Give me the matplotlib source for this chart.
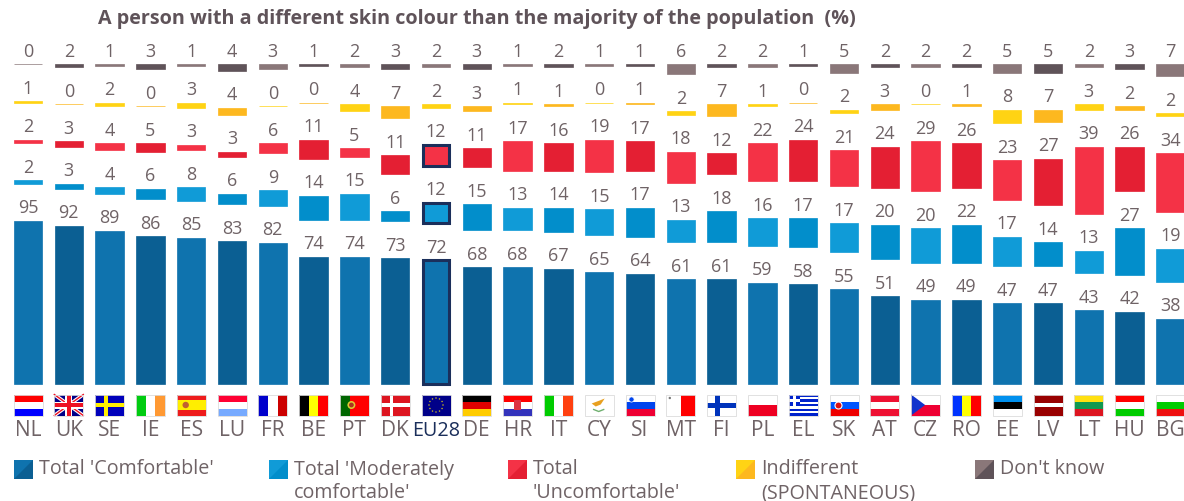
import matplotlib.pyplot as plt
from matplotlib.patches import Rectangle, Polygon, Circle
import numpy as np

plt.rcParams['font.family'] = ['Open Sans', 'DejaVu Sans']

countries = ['NL', 'UK', 'SE', 'IE', 'ES', 'LU', 'FR', 'BE', 'PT', 'DK', 'EU28', 'DE', 'HR', 'IT', 'CY',
             'SI', 'MT', 'FI', 'PL', 'EL', 'SK', 'AT', 'CZ', 'RO', 'EE', 'LV', 'LT', 'HU', 'BG']

comfortable = [95, 92, 89, 86, 85, 83, 82, 74, 74, 73, 72, 68, 68, 67, 65, 64, 61, 61, 59, 58, 55, 51, 49, 49, 47, 47, 43, 42, 38]
moderate = [2, 3, 4, 6, 8, 6, 9, 14, 15, 6, 12, 15, 13, 14, 15, 17, 13, 18, 16, 17, 17, 20, 20, 22, 17, 14, 13, 27, 19]
uncomfortable = [2, 3, 4, 5, 3, 3, 6, 11, 5, 11, 12, 11, 17, 16, 19, 17, 18, 12, 22, 24, 21, 24, 29, 26, 23, 27, 39, 26, 34]
indifferent = [1, 0, 2, 0, 3, 4, 0, 0, 4, 7, 2, 3, 1, 1, 0, 1, 2, 7, 1, 0, 2, 3, 0, 1, 8, 7, 3, 2, 2]
dont_know = [0, 2, 1, 3, 1, 4, 3, 1, 2, 3, 2, 3, 1, 2, 1, 1, 6, 2, 2, 1, 5, 2, 2, 2, 5, 5, 2, 3, 7]

series = [comfortable, moderate, uncomfortable, indifferent, dont_know]
legend_labels = ["Total 'Comfortable'", "Total 'Moderately\ncomfortable'", "Total\n'Uncomfortable'",
                 "Indifferent\n(SPONTANEOUS)", "Don't know"]
legend_x = [14, 269, 508, 736, 975]

# (lighter, darker), the columns alternate between the two
colors = [('#0f73ae', '#0b5f93'), ('#109bd7', '#028ecb'), ('#f43246', '#e41f33'),
          ('#ffd314', '#fdb81f'), ('#8a7779', '#5f5359')]
text_col = '#6f6366'
navy = '#1b2f5b'

W, H = 1184, 501
X0, DX = 28, 40.8      # pixel centre of first column, column spacing
Y0, PX = 384, 1.72     # pixel of the baseline, pixels per percent
GAP = 37 / PX          # empty space between two stacked segments, in percent
BAR_W = 28.5 / DX

fig = plt.figure(figsize=(W / 100, H / 100), dpi=100)
ax = fig.add_axes([0, 0, 1, 1])
ax.set_xlim(-X0 / DX, (W - X0) / DX)
ax.set_ylim((Y0 - H) / PX, Y0 / PX)
ax.axis('off')

# pixel coordinates for flags and legend
pax = fig.add_axes([0, 0, 1, 1])
pax.set_xlim(0, W)
pax.set_ylim(H, 0)
pax.axis('off')
pax.patch.set_alpha(0)

x = np.arange(len(countries))
bottom = np.zeros(len(countries))
for s, vals in enumerate(series):
    vals = np.array(vals)
    cols = [colors[s][i % 2] for i in x]
    ax.bar(x, vals, BAR_W, bottom=bottom, color=cols, edgecolor=cols, linewidth=0.5)
    for i, v in enumerate(vals):
        ax.annotate(str(v), (x[i], bottom[i] + v), xytext=(0, 2.5), textcoords='offset points',
                    ha='center', va='bottom', fontsize=13, color=text_col)
        # EU28 outline, only on the three big segments
        if countries[i] == 'EU28' and s < 3:
            ax.bar(x[i], v, BAR_W - 0.05, bottom=bottom[i], color='none', edgecolor=navy, linewidth=2.2)
    bottom = bottom + vals + GAP

H_STRIPES = {
    'NL': ['#ff0000', '#ffffff', '#0000ff'], 'LU': ['#ff0033', '#ffffff', '#77aaff'],
    'DE': ['#000000', '#e00000', '#ffcc00'], 'HR': ['#ff0000', '#ffffff', '#3333bb'],
    'SI': ['#ffffff', '#0044ee', '#ee0033'], 'PL': ['#ffffff', '#ffffff', '#ee0022', '#ee0022'],
    'SK': ['#ffffff', '#0055ff', '#ee0000'], 'AT': ['#ee1133', '#ffffff', '#ee1133'],
    'EE': ['#0090ee', '#000000', '#ffffff'], 'LV': ['#990000', '#990000', '#ffffff', '#990000', '#990000'],
    'LT': ['#ffe010', '#109850', '#dd1520'], 'HU': ['#ff0000', '#ffffff', '#00cc00'],
    'BG': ['#ffffff', '#00cc00', '#ee1010'], 'ES': ['#ee1c1c', '#ffee00', '#ffee00', '#ee1c1c'],
    'CY': ['#ffffff'], 'MT': ['#ffffff'], 'FI': ['#ffffff'], 'CZ': ['#ffffff', '#ee0033'],
    'EL': ['#0022cc', '#ffffff'] * 4 + ['#0022cc'], 'DK': ['#dd1520'], 'SE': ['#0000bb'],
    'UK': ['#000088'], 'EU28': ['#000088'],
}
V_STRIPES = {
    'IE': ['#00cc11', '#ffffff', '#ff9933'], 'FR': ['#0000cc', '#ffffff', '#cc0000'],
    'BE': ['#000000', '#ffff00', '#ff0000'], 'IT': ['#00cc00', '#ffffff', '#ff4010'],
    'RO': ['#0033ff', '#ffff00', '#ff0000'], 'PT': ['#006600', '#ff0000', '#ff0000'],
}


def rect(l, t, w, h, c, z=3):
    pax.add_patch(Rectangle((l, t), w, h, color=c, lw=0, zorder=z))


def draw_flag(code, cx):
    l, t, w, h = cx - 14.5, 394.5, 29, 21
    if code in H_STRIPES:
        st = H_STRIPES[code]
        for k, c in enumerate(st):
            rect(l, t + k * h / len(st), w, h / len(st), c)
    if code in V_STRIPES:
        st = V_STRIPES[code]
        for k, c in enumerate(st):
            rect(l + k * w / len(st), t, w / len(st), h, c)
    if code == 'UK':
        for pts in ([(l, t), (l + w, t + h)], [(l, t + h), (l + w, t)]):
            pax.plot(*zip(*pts), color='#ffffff', lw=2.6, zorder=4)
            pax.plot(*zip(*pts), color='#ee1122', lw=1, zorder=4)
        rect(l + w / 2 - 3.5, t, 7, h, '#ffffff', 4)
        rect(l, t + h / 2 - 3.5, w, 7, '#ffffff', 4)
        rect(l + w / 2 - 2, t, 4, h, '#ee1122', 5)
        rect(l, t + h / 2 - 2, w, 4, '#ee1122', 5)
    if code == 'SE':
        rect(l + 9, t, 4, h, '#ffee00', 4)
        rect(l, t + 8.5, w, 4, '#ffee00', 4)
    if code == 'FI':
        rect(l + 8, t, 5, h, '#0033bb', 4)
        rect(l, t + 8, w, 5, '#0033bb', 4)
    if code == 'DK':
        rect(l + 9, t, 3.5, h, '#ffffff', 4)
        rect(l, t + 8.5, w, 3.5, '#ffffff', 4)
    if code == 'EL':
        rect(l, t, 11, 11.5, '#0022cc', 4)
        rect(l + 4, t, 3, 11.5, '#ffffff', 5)
        rect(l, t + 4.5, 11, 2.5, '#ffffff', 5)
    if code == 'CZ':
        pax.add_patch(Polygon([(l, t), (l + 14, t + h / 2), (l, t + h)], color='#1133cc', lw=0, zorder=4))
    if code == 'MT':
        rect(l + w / 2, t, w / 2, h, '#ff0000', 4)
        pax.add_patch(Circle((l + 3.5, t + 3.5), 1.2, color='#777777', lw=0, zorder=4))
    if code == 'CY':
        pax.add_patch(Polygon([(l + 7, t + 9), (l + 15, t + 6), (l + 20, t + 4), (l + 16, t + 10), (l + 11, t + 12)],
                              color='#e8a020', lw=0, zorder=4))
        pax.plot([l + 9, l + 14, l + 19], [t + 15, t + 17, t + 15], color='#70b070', lw=1, zorder=4)
    if code == 'ES':
        pax.add_patch(Circle((l + 9, t + h / 2), 3.2, color='#c06030', lw=0, zorder=4))
    if code == 'PT':
        pax.add_patch(Circle((l + 11.5, t + h / 2), 4, color='#ddcc33', lw=0, zorder=4))
        pax.add_patch(Circle((l + 11.5, t + h / 2), 2.4, color='#aa3322', lw=0, zorder=5))
    if code == 'SK':
        pax.add_patch(Circle((l + 9, t + 11), 3.5, color='#dd1111', ec='#ffffff', lw=0.8, zorder=4))
    if code == 'SI':
        pax.add_patch(Circle((l + 6, t + 5), 2.6, color='#0044ee', ec='#ffffff', lw=0.5, zorder=4))
    if code == 'HR':
        rect(l + 11, t + 5, 7, 10, '#dd3344', 4)
    if code == 'EU28':
        for a in np.arange(0, 360, 30):
            pax.add_patch(Circle((cx + 7 * np.cos(np.radians(a)), t + h / 2 + 7 * np.sin(np.radians(a))), 0.75,
                                 color='#ccbb22', lw=0, zorder=4))
    pax.add_patch(Rectangle((l, t), w, h, fill=False, ec='#dcdcdc', lw=0.6, zorder=6))


for i, code in enumerate(countries):
    cx = X0 + DX * i
    draw_flag(code, cx)
    eu = code == 'EU28'
    pax.text(cx, 431, code, ha='center', va='center', fontsize=14.2 if eu else 15,
             color=navy if eu else text_col)

# legend, each swatch is split on the diagonal
for lab, lx, (c1, c2) in zip(legend_labels, legend_x, colors):
    sx, sy, sw = lx, 459.5, 19
    pax.add_patch(Rectangle((sx, sy), sw, sw, color=c1, lw=0))
    pax.add_patch(Polygon([(sx + sw, sy), (sx + sw, sy + sw), (sx, sy + sw)], color=c2, lw=0))
    pax.text(lx + 25, 459.5, lab, ha='left', va='top', fontsize=14.2, color=text_col, linespacing=1.25)

pax.text(98, 19, 'A person with a different skin colour than the majority of the population  (%)',
         ha='left', va='center', fontsize=14.25, fontweight='bold', color='#5f5359')

fig.savefig('out.png', dpi=100)
